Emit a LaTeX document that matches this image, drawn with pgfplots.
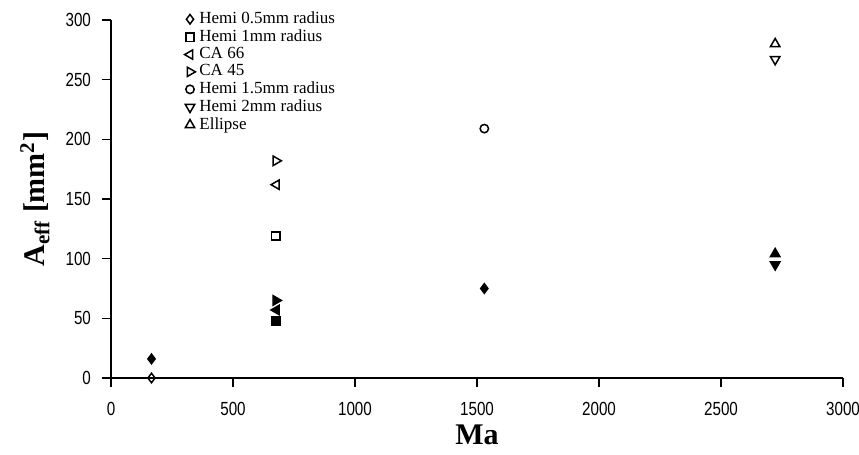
\documentclass[border=0pt]{standalone}
\usepackage{fontspec}
\setmainfont{Liberation Serif}
\newfontfamily\tickfont[FakeStretch=0.8]{Liberation Sans}
\usepackage{pgfplots}
\pgfplotsset{compat=1.18}
\usetikzlibrary{calc}
\begin{document}
\begin{tikzpicture}
\begin{axis}[
  scale only axis,
  width=366pt, height=179pt,
  xmin=0, xmax=3000, ymin=0, ymax=300,
  axis x line*=bottom, axis y line*=left,
  axis line style={black, line width=0.6pt},
  xtick={0,500,...,3000}, ytick={0,50,...,300},
  tick style={black, line width=0.6pt},
  tick align=outside, major tick length=4.5pt,
  /pgf/number format/assume math mode=true,
  /pgf/number format/1000 sep={},
  ticklabel style={font=\tickfont\fontsize{9.5}{9.5}\selectfont},
  xticklabel style={yshift=-4pt},
  yticklabel style={xshift=-2pt},
  xlabel={\textbf{Ma}},
  ylabel={\textbf{A\textsubscript{eff} [mm\textsuperscript{2}]}},
  xlabel style={font=\fontsize{15}{15}\selectfont, at={(axis description cs:0.5,-0.158)}, anchor=center},
  ylabel style={font=\fontsize{15}{15}\selectfont, at={(axis description cs:-0.104,0.5)}, anchor=center},
  clip=false,
  legend style={draw=none, fill=none, at={(0.1,1.035)}, anchor=north west,
    font=\fontsize{8.5}{8.5}\selectfont, row sep=-2.5pt, inner sep=0pt},
  legend cell align=left,
  every axis plot/.append style={only marks, black, line width=0.75pt, mark options={solid}},
]
% open series (legend)
\addplot[mark=diamond, mark size=2.4pt, mark options={fill=white}] coordinates {(166,0)};
\addlegendentry{Hemi 0.5mm radius}
\addplot[mark=square, mark size=2.1pt, mark options={fill=white}] coordinates {(676,119)};
\addlegendentry{Hemi 1mm radius}
\addplot[mark=triangle, mark size=2.7pt, mark options={fill=white, rotate=90}] coordinates {(678,162)};
\addlegendentry{CA 66}
\addplot[mark=triangle, mark size=2.7pt, mark options={fill=white, rotate=-90}] coordinates {(676,182)};
\addlegendentry{CA 45}
\addplot[mark=o, mark size=2.1pt, mark options={fill=white}] coordinates {(1530,209)};
\addlegendentry{Hemi 1.5mm radius}
\addplot[mark=triangle, mark size=2.7pt, mark options={fill=white, rotate=180}] coordinates {(2722,267)};
\addlegendentry{Hemi 2mm radius}
\addplot[mark=triangle, mark size=2.7pt, mark options={fill=white}] coordinates {(2722,280)};
\addlegendentry{Ellipse}
% filled series
\addplot[forget plot, mark=diamond*, mark size=2.4pt] coordinates {(166,16) (1530,75)};
\addplot[forget plot, mark=square*, mark size=2.1pt] coordinates {(676,48)};
\addplot[forget plot, mark=triangle*, mark size=2.7pt, mark options={rotate=90}] coordinates {(678,57)};
\addplot[forget plot, mark=triangle*, mark size=2.7pt, mark options={rotate=-90}] coordinates {(676,65)};
\addplot[forget plot, mark=triangle*, mark size=2.7pt, mark options={rotate=180}] coordinates {(2722,95)};
\addplot[forget plot, mark=triangle*, mark size=2.7pt] coordinates {(2722,104)};
\end{axis}
\pgfresetboundingbox
\path ($(current axis.south west)+(-55.5pt,-38pt)$) rectangle ($(current axis.north east)+(8pt,10pt)$);
\end{tikzpicture}
\end{document}
